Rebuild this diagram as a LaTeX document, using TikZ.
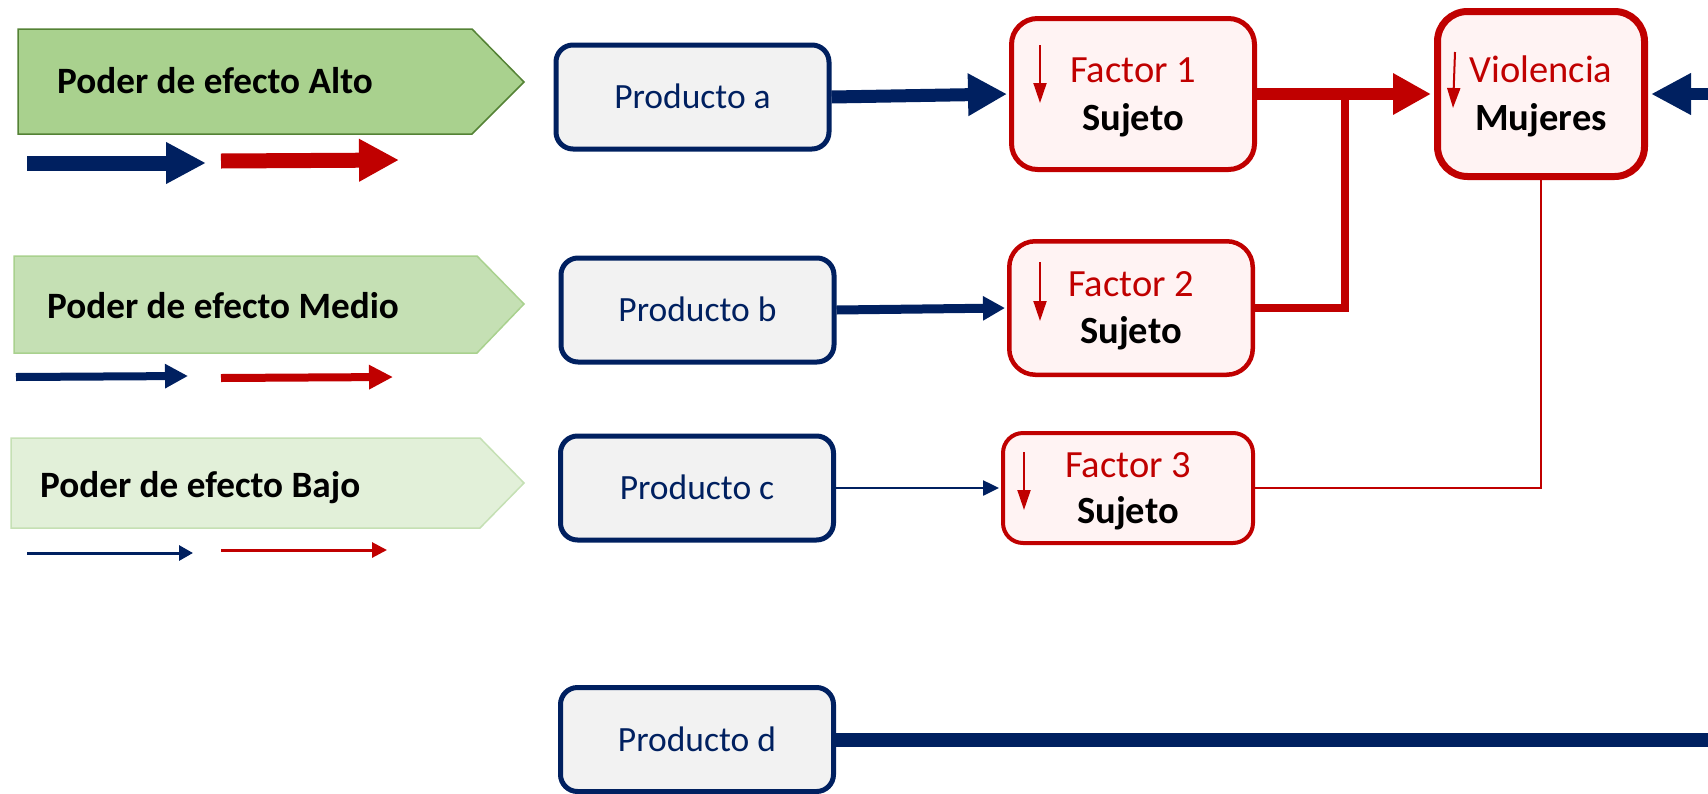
\documentclass[tikz,border=0pt]{standalone}
\usepackage{fontspec}
\setmainfont{Carlito}
\usetikzlibrary{arrows.meta,calc}
\definecolor{navy}{HTML}{002060}
\definecolor{dred}{HTML}{C00000}
\definecolor{pgray}{HTML}{F2F2F2}
\definecolor{fpink}{HTML}{FFF3F3}
\definecolor{gAltoF}{HTML}{A9D18E}
\definecolor{gAltoD}{HTML}{548235}
\definecolor{gMedF}{HTML}{C5E0B4}
\definecolor{gMedD}{HTML}{A9D18E}
\definecolor{gBajF}{HTML}{E2F0D9}
\definecolor{gBajD}{HTML}{C5E0B4}
\begin{document}
\begin{tikzpicture}[x=1pt,y=-1pt,
  pbox/.style={draw=navy, fill=pgray, line width=5pt, rounded corners=17pt,
    font=\fontsize{35.5}{42}\selectfont, text=navy, text height=23pt, text depth=0pt,
    inner sep=0pt, minimum width=273pt, minimum height=104pt},
  fbox/.style={draw=dred, fill=fpink, rounded corners=26pt, inner sep=0pt},
  ftop/.style={text=dred, font=\fontsize{38.5}{46}\selectfont, anchor=base, inner sep=0pt},
  fbot/.style={text=black, font=\bfseries\fontsize{38.5}{46}\selectfont, anchor=base, inner sep=0pt},
  legtext/.style={font=\bfseries\fontsize{37.2}{44}\selectfont, anchor=base west, inner sep=0pt},
  mini/.style={draw=dred, line width=2pt, -{Triangle[length=20pt,width=13pt]}},
]
\useasboundingbox (0,0) rectangle (1708,793);

% legend pentagons
\draw[fill=gAltoF, draw=gAltoD, line width=1.5pt] (18,29) -- (472,29) -- (524,82) -- (472,134) -- (18,134) -- cycle;
\node[legtext] (lalto) at (57,93) {Poder de efecto Alto};
\draw[fill=gMedF, draw=gMedD, line width=1.5pt] (14,256) -- (477,256) -- (524,304) -- (477,353) -- (14,353) -- cycle;
\node[legtext] (lmedio) at (47,318) {Poder de efecto Medio};
\draw[fill=gBajF, draw=gBajD, line width=1.5pt] (11,438) -- (480,438) -- (524,483) -- (480,528) -- (11,528) -- cycle;
\node[legtext] (lbajo) at (40,497) {Poder de efecto Bajo};

% legend arrows
\draw[navy, line width=15pt, -{Triangle[length=40pt,width=39pt]}] (27,163) -- (206,163);
\draw[dred, line width=15pt, -{Triangle[length=40pt,width=40pt]}] (221,161) -- (399,160);
\draw[navy, line width=8pt, -{Triangle[length=23pt,width=23pt]}] (16,377) -- (188,376);
\draw[dred, line width=8pt, -{Triangle[length=24pt,width=23pt]}] (221,378) -- (393,377);
\draw[navy, line width=3pt, -{Triangle[length=14pt,width=15pt]}] (27,553) -- (193,553);
\draw[dred, line width=3pt, -{Triangle[length=15pt,width=15pt]}] (221,550) -- (387,550);

% products
\node[pbox] (pa) at (692.5,97) {Producto a};
\node[pbox] (pb) at (697.5,310) {Producto b};
\node[pbox] (pc) at (697,488) {Producto c};
\node[pbox] (pd) at (697,739.5) {Producto d};

% factors
\node[fbox, line width=5pt, minimum width=243pt, minimum height=151pt] (f1) at (1133,94) {};
\node[fbox, line width=4.5pt, minimum width=243.5pt, minimum height=133.5pt] (f2) at (1131,308) {};
\node[fbox, line width=4pt, rounded corners=20pt, minimum width=250pt, minimum height=110pt] (f3) at (1128,488) {};
\node[fbox, line width=7pt, rounded corners=30pt, minimum width=207pt, minimum height=165pt] (vio) at (1541,94) {};

\node[ftop] (f1a) at ($(f1.center)+(0,-12)$) {Factor 1};
\node[fbot] (f1b) at ($(f1.center)+(0,36)$) {Sujeto};
\node[ftop] (f2a) at ($(f2.center)+(0,-12)$) {Factor 2};
\node[fbot] (f2b) at ($(f2.center)+(0,35)$) {Sujeto};
\node[ftop] (f3a) at ($(f3.center)+(0,-11)$) {Factor 3};
\node[fbot] (f3b) at ($(f3.center)+(0,35)$) {Sujeto};
\node[ftop] (vioa) at ($(vio.center)+(0,-12)$) {Violencia};
\node[fbot] (viob) at ($(vio.center)+(0,36)$) {Mujeres};

\draw[mini] ($(f1.center)+(-93,-49)$) -- ($(f1.center)+(-93,9)$);
\draw[mini] ($(f2.center)+(-91,-46)$) -- ($(f2.center)+(-91,13)$);
\draw[mini] ($(f3.center)+(-104,-36)$) -- ($(f3.center)+(-104,22)$);
\draw[mini] ($(vio.center)+(-86,-42)$) -- ($(vio.center)+(-88,14)$);

% connectors
\draw[navy, line width=13pt, shorten >=2pt, -{Triangle[length=39pt,width=40pt]}] (pa.east) -- (f1.west);
\draw[navy, line width=9pt, shorten >=2pt, -{Triangle[length=22pt,width=23pt]}] (pb.east) -- (f2.west);
\draw[navy, line width=2.5pt, shorten >=2pt, -{Triangle[length=16pt,width=15pt]}] (pc.east) -- (f3.west);
\draw[dred, line width=12pt, shorten >=3pt, -{Triangle[length=38pt,width=39pt]}] (f1.east) -- (vio.west);
\coordinate (j) at (1345,93);
\draw[dred, line width=8pt] (f2.east) -| (j);
\draw[dred, line width=1.2pt] (f3.east) -| (vio.south);
\coordinate (dend) at (1708,741);
\draw[navy, line width=14pt] (pd.east) -- (pd.east -| dend);
\coordinate (vin) at (1708,94);
\draw[navy, line width=12pt, shorten >=3pt, -{Triangle[length=40pt,width=39pt]}] (vin) -- (vio.east);
\end{tikzpicture}
\end{document}
